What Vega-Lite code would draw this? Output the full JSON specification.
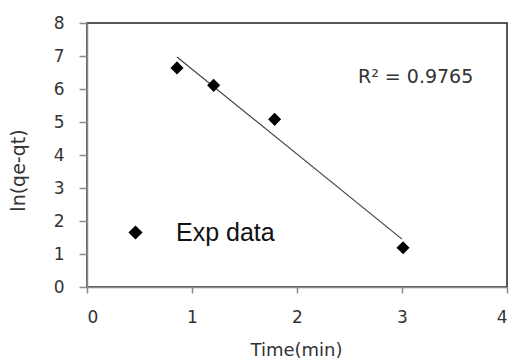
{
  "$schema": "https://vega.github.io/schema/vega-lite/v6.json",
  "width": 420,
  "height": 264,
  "autosize": {"type": "none"},
  "padding": {"left": 87, "top": 23, "right": 5, "bottom": 74},
  "background": "white",
  "config": {
    "view": {"stroke": "#222", "strokeWidth": 1.5},
    "axis": {
      "grid": false,
      "domainColor": "#8a8a8a",
      "domainWidth": 1.5,
      "tickColor": "#8a8a8a",
      "tickWidth": 1.5,
      "labelFont": "DejaVu Sans",
      "labelFontSize": 17,
      "labelColor": "#333",
      "titleFont": "DejaVu Sans",
      "titleColor": "#333",
      "titleFontWeight": "normal"
    }
  },
  "datasets": {
    "points": [
      {"time": 0.857, "lnq": 6.64, "series": "Exp data"},
      {"time": 1.206, "lnq": 6.11, "series": "Exp data"},
      {"time": 1.787, "lnq": 5.08, "series": "Exp data"},
      {"time": 3.01, "lnq": 1.19, "series": "Exp data"}
    ],
    "trend": [
      {"time": 0.857, "lnq": 6.97},
      {"time": 3.0, "lnq": 1.45}
    ],
    "note": [
      {"time": 3.13, "lnq": 6.35, "label": "R² = 0.9765"}
    ]
  },
  "encoding": {
    "x": {
      "field": "time", "type": "quantitative",
      "scale": {"domain": [0, 4], "nice": false},
      "axis": {
        "values": [0, 1, 2, 3, 4],
        "format": "d",
        "title": "Time(min)",
        "titleFontSize": 18,
        "titleX": 209,
        "titleY": 63,
        "titleBaseline": "middle",
        "titleAlign": "center",
        "tickSize": 6,
        "labelPadding": 16
      }
    },
    "y": {
      "field": "lnq", "type": "quantitative",
      "scale": {"domain": [0, 8], "nice": false},
      "axis": {
        "values": [0, 1, 2, 3, 4, 5, 6, 7, 8],
        "format": "d",
        "title": "ln(qe-qt)",
        "titleFontSize": 19,
        "titleX": -69,
        "titleY": 147,
        "titleBaseline": "middle",
        "titleAlign": "center",
        "tickSize": 8,
        "labelPadding": 15
      }
    }
  },
  "layer": [
    {
      "data": {"name": "trend"},
      "mark": {"type": "line", "color": "#444", "strokeWidth": 1.2}
    },
    {
      "data": {"name": "points"},
      "mark": {"type": "point", "filled": true, "opacity": 1, "size": 170, "color": "black"},
      "encoding": {
        "shape": {
          "field": "series", "type": "nominal",
          "scale": {"range": ["diamond"]},
          "legend": {
            "title": null,
            "orient": "none",
            "legendX": 36,
            "legendY": 197,
            "padding": 0,
            "symbolSize": 200,
            "symbolFillColor": "black",
            "symbolStrokeColor": "black",
            "symbolOpacity": 1,
            "labelFont": "Liberation Sans",
            "labelFontSize": 25,
            "labelColor": "#111",
            "labelOffset": 28
          }
        }
      }
    },
    {
      "data": {"name": "note"},
      "mark": {"type": "text", "font": "DejaVu Sans", "fontSize": 19, "color": "#333", "align": "center", "baseline": "middle"},
      "encoding": {
        "text": {"field": "label"}
      }
    }
  ]
}
